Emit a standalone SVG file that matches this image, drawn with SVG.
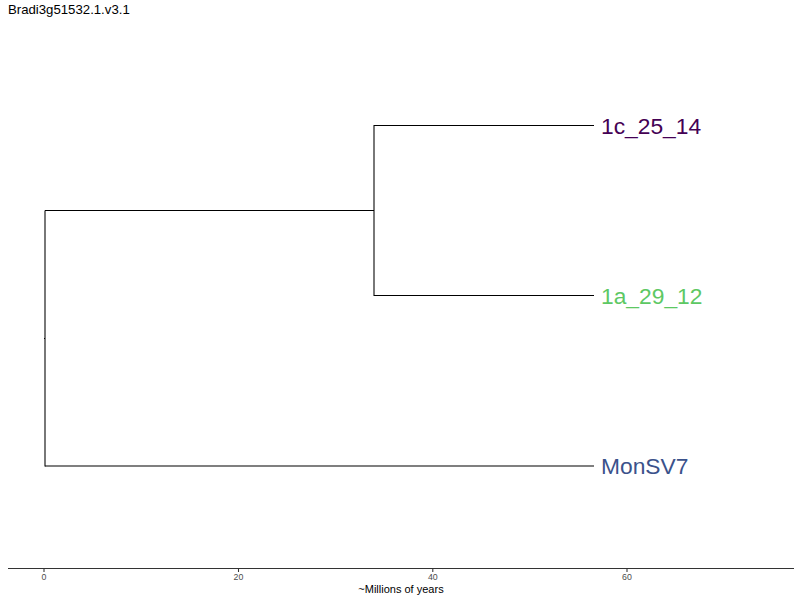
<svg xmlns="http://www.w3.org/2000/svg" width="800" height="600" viewBox="0 0 800 600">
<style>
.e{stroke:#000;stroke-width:1.07;fill:none;stroke-linecap:butt}
.lab{font-family:"Liberation Sans",Arial,sans-serif;font-size:22.8px}
.tick{font-family:"Liberation Sans",Arial,sans-serif;font-size:8.8px;fill:#4d4d4d;text-anchor:middle}
</style>
<rect width="800" height="600" fill="#fff"/>
<text x="8" y="14" font-family="Liberation Sans,Arial,sans-serif" font-size="13.2" fill="#000">Bradi3g51532.1.v3.1</text>
<g id="edges">
<line class="e" x1="44" y1="338.5" x2="45" y2="338.5"/>
<line class="e" x1="45" y1="210.5" x2="45" y2="466.5"/>
<line class="e" x1="45" y1="210.5" x2="374" y2="210.5"/>
<line class="e" x1="45" y1="466" x2="594" y2="466"/>
<line class="e" x1="374" y1="125" x2="374" y2="296"/>
<line class="e" x1="374" y1="125.5" x2="594" y2="125.5"/>
<line class="e" x1="374" y1="295.5" x2="594" y2="295.5"/>
</g>
<g id="n1c"><text class="lab" x="601" y="133.5" fill="#440154">1c_25_14</text></g>
<g id="n1a"><text class="lab" x="601" y="303.5" fill="#5DC863">1a_29_12</text></g>
<g id="nMon"><text class="lab" x="601" y="474" fill="#3B528B">MonSV7</text></g>
<g id="axis">
<line x1="8" y1="568.5" x2="794" y2="568.5" stroke="#333" stroke-width="1.07"/>
<g stroke="#333" stroke-width="1.07">
<line x1="44" y1="569" x2="44" y2="572"/>
<line x1="238.5" y1="569" x2="238.5" y2="572"/>
<line x1="432.8" y1="569" x2="432.8" y2="572"/>
<line x1="627" y1="569" x2="627" y2="572"/>
</g>
<text class="tick" x="44" y="580">0</text>
<text class="tick" x="238.5" y="580">20</text>
<text class="tick" x="432.8" y="580">40</text>
<text class="tick" x="627" y="580">60</text>
<text x="401" y="593" font-family="Liberation Sans,Arial,sans-serif" font-size="11" text-anchor="middle" fill="#000">~Millions of years</text>
</g>
</svg>
